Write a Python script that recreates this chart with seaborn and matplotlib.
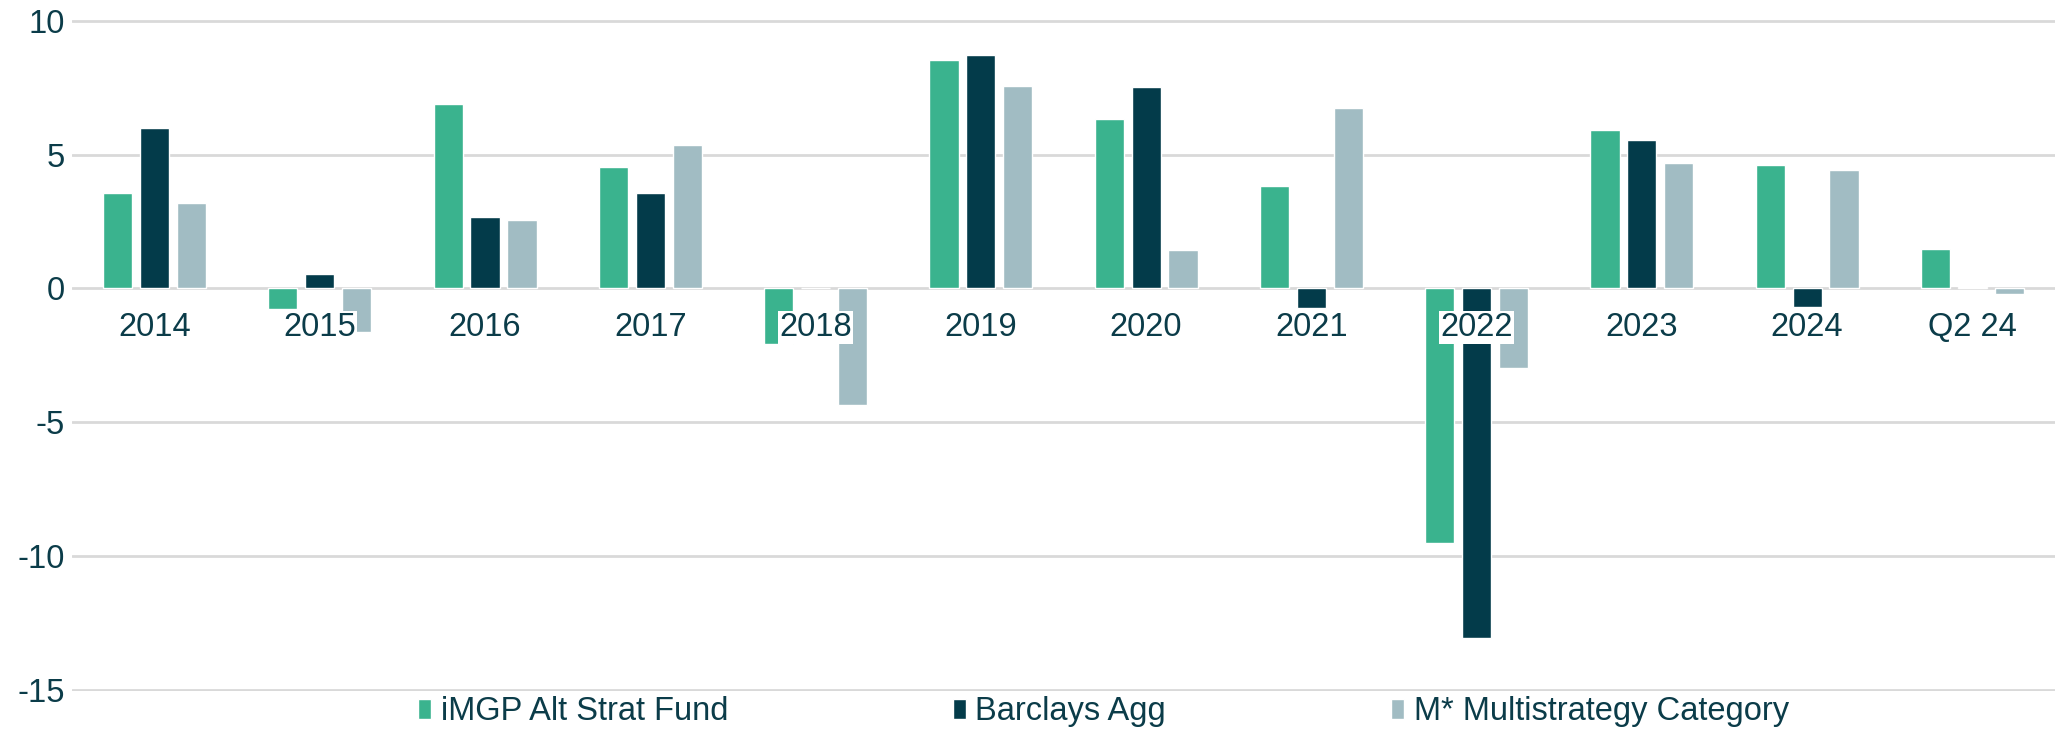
import pandas as pd
import matplotlib.pyplot as plt
import seaborn as sns

# =========================
# Data
# =========================
periods = ["2014", "2015", "2016", "2017", "2018", "2019",
           "2020", "2021", "2022", "2023", "2024", "Q2 24"]
series_names = ["iMGP Alt Strat Fund", "Barclays Agg", "M* Multistrategy Category"]

alt_strat = [3.58, -0.78, 6.88, 4.52, -2.09, 8.55, 6.32, 3.82, -9.52, 5.92, 4.62, 1.49]
barclays_agg = [5.98, 0.55, 2.66, 3.55, 0.0, 8.74, 7.52, -0.73, -13.06, 5.54, -0.71, 0.07]
multistrategy = [3.19, -1.63, 2.54, 5.37, -4.36, 7.56, 1.42, 6.75, -2.98, 4.67, 4.43, -0.20]

colors = ["#3AB38E", "#033B4A", "#A1BCC3"]
text_color = "#0B3C49"
grid_color = "#D9D9D9"

df = pd.DataFrame({
    "period": periods * 3,
    "series": [series_names[0]] * 12 + [series_names[1]] * 12 + [series_names[2]] * 12,
    "value": alt_strat + barclays_agg + multistrategy,
})

# =========================
# Setup
# =========================
sns.set_theme(style="white")
plt.rcParams["font.family"] = ["Liberation Sans", "DejaVu Sans"]
plt.rcParams["axes.unicode_minus"] = False

FS = 23.5

fig = plt.figure(figsize=(20.55, 7.31), dpi=100)
ax = fig.add_axes([0.035, 0.0547, 0.965, 0.9183])

sns.barplot(data=df, x="period", y="value", hue="series", hue_order=series_names,
            palette=colors, width=0.67, gap=0.21, ax=ax, saturation=1)

ax.set_ylim(-15.04, 10.04)
ax.set_xlim(-0.5, 11.5)
ax.set_yticks([-15, -10, -5, 0, 5, 10])
ax.set_xlabel("")
ax.set_ylabel("")

# grid behind bars, x labels in front
ax.set_axisbelow(True)
ax.yaxis.grid(True, color=grid_color, linewidth=2)
ax.xaxis.grid(False)
ax.xaxis.set_zorder(5)

for s in ax.spines.values():
    s.set_visible(False)
ax.spines["bottom"].set_position(("data", 0))

ax.tick_params(axis="x", length=0, pad=17, labelsize=FS, labelcolor=text_color)
ax.tick_params(axis="y", length=0, pad=5, labelsize=FS, labelcolor=text_color)

for lbl in ax.get_xticklabels():
    lbl.set_bbox(dict(facecolor="white", edgecolor="none", pad=1))

# =========================
# Legend
# =========================
ax.legend_.remove()
handles, labels = ax.get_legend_handles_labels()
fig.legend(handles, labels, loc="center", bbox_to_anchor=(0.537, 0.026), ncol=3,
           frameon=False, fontsize=FS, labelcolor=text_color,
           handlelength=0.38, handleheight=0.6, handletextpad=0.3,
           columnspacing=6.9, borderaxespad=0)

fig.savefig("out.png", dpi=100)
